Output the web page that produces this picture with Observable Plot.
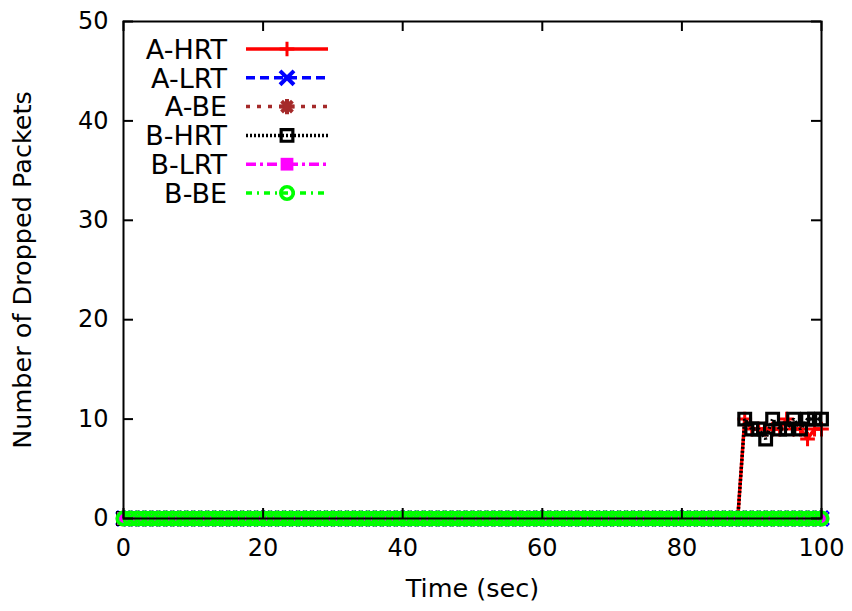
<!DOCTYPE html>
<html>
<head>
<meta charset="utf-8">
<script src="https://cdn.jsdelivr.net/npm/d3@7"></script>
<script src="https://cdn.jsdelivr.net/npm/@observablehq/plot@0.6"></script>
<style>
  html, body { margin: 0; padding: 0; background: #fff; }
  #chart svg { display: block; font-family: "DejaVu Sans", sans-serif; }
</style>
</head>
<body>
<div id="chart"></div>
<script>
// Sample times (seconds)
const time = [
  0, 1, 2, 3, 4, 5, 6, 7, 8, 9,
  10, 11, 12, 13, 14, 15, 16, 17, 18, 19,
  20, 21, 22, 23, 24, 25, 26, 27, 28, 29,
  30, 31, 32, 33, 34, 35, 36, 37, 38, 39,
  40, 41, 42, 43, 44, 45, 46, 47, 48, 49,
  50, 51, 52, 53, 54, 55, 56, 57, 58, 59,
  60, 61, 62, 63, 64, 65, 66, 67, 68, 69,
  70, 71, 72, 73, 74, 75, 76, 77, 78, 79,
  80, 81, 82, 83, 84, 85, 86, 87, 88, 89,
  90, 91, 92, 93, 94, 95, 96, 97, 98, 99,
  100
];

// Dropped packets per series
const aHRT = [
  0,0,0,0,0,0,0,0,0,0,
  0,0,0,0,0,0,0,0,0,0,
  0,0,0,0,0,0,0,0,0,0,
  0,0,0,0,0,0,0,0,0,0,
  0,0,0,0,0,0,0,0,0,0,
  0,0,0,0,0,0,0,0,0,0,
  0,0,0,0,0,0,0,0,0,0,
  0,0,0,0,0,0,0,0,0,0,
  0,0,0,0,0,0,0,0,0,10,
  9,9,9,9,9,10,9,9,8,9,
  9
];
const aLRT = [
  0,0,0,0,0,0,0,0,0,0,
  0,0,0,0,0,0,0,0,0,0,
  0,0,0,0,0,0,0,0,0,0,
  0,0,0,0,0,0,0,0,0,0,
  0,0,0,0,0,0,0,0,0,0,
  0,0,0,0,0,0,0,0,0,0,
  0,0,0,0,0,0,0,0,0,0,
  0,0,0,0,0,0,0,0,0,0,
  0,0,0,0,0,0,0,0,0,0,
  0,0,0,0,0,0,0,0,0,0,
  0
];
const aBE = [
  0,0,0,0,0,0,0,0,0,0,
  0,0,0,0,0,0,0,0,0,0,
  0,0,0,0,0,0,0,0,0,0,
  0,0,0,0,0,0,0,0,0,0,
  0,0,0,0,0,0,0,0,0,0,
  0,0,0,0,0,0,0,0,0,0,
  0,0,0,0,0,0,0,0,0,0,
  0,0,0,0,0,0,0,0,0,0,
  0,0,0,0,0,0,0,0,0,0,
  0,0,0,0,0,0,0,0,0,0,
  0
];
const bHRT = [
  0,0,0,0,0,0,0,0,0,0,
  0,0,0,0,0,0,0,0,0,0,
  0,0,0,0,0,0,0,0,0,0,
  0,0,0,0,0,0,0,0,0,0,
  0,0,0,0,0,0,0,0,0,0,
  0,0,0,0,0,0,0,0,0,0,
  0,0,0,0,0,0,0,0,0,0,
  0,0,0,0,0,0,0,0,0,0,
  0,0,0,0,0,0,0,0,0,10,
  9,9,8,10,9,9,10,9,10,10,
  10
];
const bLRT = [
  0,0,0,0,0,0,0,0,0,0,
  0,0,0,0,0,0,0,0,0,0,
  0,0,0,0,0,0,0,0,0,0,
  0,0,0,0,0,0,0,0,0,0,
  0,0,0,0,0,0,0,0,0,0,
  0,0,0,0,0,0,0,0,0,0,
  0,0,0,0,0,0,0,0,0,0,
  0,0,0,0,0,0,0,0,0,0,
  0,0,0,0,0,0,0,0,0,0,
  0,0,0,0,0,0,0,0,0,0,
  0
];
const bBE = [
  0,0,0,0,0,0,0,0,0,0,
  0,0,0,0,0,0,0,0,0,0,
  0,0,0,0,0,0,0,0,0,0,
  0,0,0,0,0,0,0,0,0,0,
  0,0,0,0,0,0,0,0,0,0,
  0,0,0,0,0,0,0,0,0,0,
  0,0,0,0,0,0,0,0,0,0,
  0,0,0,0,0,0,0,0,0,0,
  0,0,0,0,0,0,0,0,0,0,
  0,0,0,0,0,0,0,0,0,0,
  0
];

const seriesNames = ["A-HRT", "A-LRT", "A-BE", "B-HRT", "B-LRT", "B-BE"];
const seriesValues = [aHRT, aLRT, aBE, bHRT, bLRT, bBE];
const xTicks = [0, 20, 40, 60, 80, 100];
const yTicks = [0, 10, 20, 30, 40, 50];
const xLabel = "Time (sec)";
const yLabel = "Number of Dropped Packets";

// Line and point styles, one per series (gnuplot-like linespoints)
const styles = [
  { color: "#ff0000", dash: null,        symbols: ["plus"],          r: 4.8, sw: 3,   fill: "none" },
  { color: "#0000ff", dash: "9,5",       symbols: ["times"],         r: 6.4, sw: 4,   fill: "none" },
  { color: "#a52a2a", dash: "4,7",       symbols: ["plus", "times"], r: 5.0, sw: 4,   fill: "none" },
  { color: "#000000", dash: "2,2",       symbols: ["square"],        r: 6.6, sw: 3.2, fill: "none" },
  { color: "#ff00ff", dash: "10,4,3,4",  symbols: ["square"],        r: 7.2, sw: 0,   fill: "#ff00ff" },
  { color: "#00ff00", dash: "6,5,2,5",   symbols: ["circle"],        r: 6.2, sw: 3.6, fill: "none" }
];
const lineWidth = 3.5;

// Layout
const W = 852, H = 611;
const margin = { top: 21, right: 31, bottom: 93, left: 123 };
const frameW = W - margin.left - margin.right;
const frameH = H - margin.top - margin.bottom;
const tickLen = 10;

const rows = seriesNames.flatMap((name, s) =>
  time.map((t, i) => ({ series: name, t, v: seriesValues[s][i] }))
);

const seriesMarks = seriesNames.flatMap((name, s) => {
  const st = styles[s];
  const data = rows.filter(d => d.series === name);
  const marks = [
    Plot.line(data, {
      x: "t", y: "v", stroke: st.color, strokeWidth: lineWidth,
      strokeDasharray: st.dash ?? undefined, strokeLinejoin: "miter", strokeLinecap: "butt"
    })
  ];
  for (const sym of st.symbols) {
    marks.push(Plot.dot(data, {
      x: "t", y: "v", symbol: sym, r: st.r,
      stroke: st.sw > 0 ? st.color : "none", strokeWidth: st.sw, fill: st.fill
    }));
  }
  return marks;
});

const plot = Plot.plot({
  width: W,
  height: H,
  marginTop: margin.top,
  marginRight: margin.right,
  marginBottom: margin.bottom,
  marginLeft: margin.left,
  style: { fontFamily: "DejaVu Sans, sans-serif", fontSize: "24px", background: "#fff", overflow: "visible" },
  x: { domain: [0, 100], ticks: xTicks },
  y: { domain: [0, 50], ticks: yTicks },
  marks: [
    ...seriesMarks,
    // inward tick marks, mirrored on all four sides
    Plot.ruleX(xTicks, { x: d => d, insetTop: frameH - tickLen, stroke: "#000", strokeWidth: 2 }),
    Plot.ruleX(xTicks, { x: d => d, insetBottom: frameH - tickLen, stroke: "#000", strokeWidth: 2 }),
    Plot.ruleY(yTicks, { y: d => d, insetRight: frameW - tickLen, stroke: "#000", strokeWidth: 2 }),
    Plot.ruleY(yTicks, { y: d => d, insetLeft: frameW - tickLen, stroke: "#000", strokeWidth: 2 }),
    Plot.frame({ stroke: "#000", strokeWidth: 2 }),
    Plot.axisX(xTicks, { tickSize: 0, tickPadding: 20, label: null, tickFormat: d => String(d) }),
    Plot.axisY(yTicks, { tickSize: 0, tickPadding: 15, label: null, tickFormat: d => String(d) }),
    Plot.text([{ label: xLabel }], {
      text: "label", frameAnchor: "bottom", dy: 70, lineAnchor: "middle", textAnchor: "middle",
      fontSize: 25.5, fill: "#000"
    }),
    Plot.text([{ label: yLabel }], {
      text: "label", frameAnchor: "left", dx: -101, rotate: -90, lineAnchor: "middle", textAnchor: "middle",
      fontSize: 25.5, fill: "#000"
    })
  ]
});

// Key in the upper-left corner of the frame
const symbolTypes = {
  plus: d3.symbolPlus, times: d3.symbolTimes, square: d3.symbolSquare, circle: d3.symbolCircle
};
const key = { textRight: 227, x1: 246, x2: 328, markX: 287, top: 49, step: 28.8, fontSize: 27 };
const g = d3.select(plot).append("g").attr("class", "key");
seriesNames.forEach((name, i) => {
  const st = styles[i];
  const cy = key.top + i * key.step;
  g.append("text")
    .attr("x", key.textRight).attr("y", cy)
    .attr("dy", "0.36em")
    .attr("text-anchor", "end")
    .attr("font-size", key.fontSize)
    .attr("fill", "#000")
    .text(name);
  g.append("line")
    .attr("x1", key.x1).attr("x2", key.x2).attr("y1", cy).attr("y2", cy)
    .attr("stroke", st.color).attr("stroke-width", lineWidth)
    .attr("stroke-dasharray", st.dash);
  for (const sym of st.symbols) {
    g.append("path")
      .attr("transform", `translate(${key.markX},${cy})`)
      .attr("d", d3.symbol(symbolTypes[sym], Math.PI * st.r * st.r)())
      .attr("fill", st.fill)
      .attr("stroke", st.sw > 0 ? st.color : "none")
      .attr("stroke-width", st.sw);
  }
});

document.getElementById("chart").appendChild(plot);
</script>
</body>
</html>
